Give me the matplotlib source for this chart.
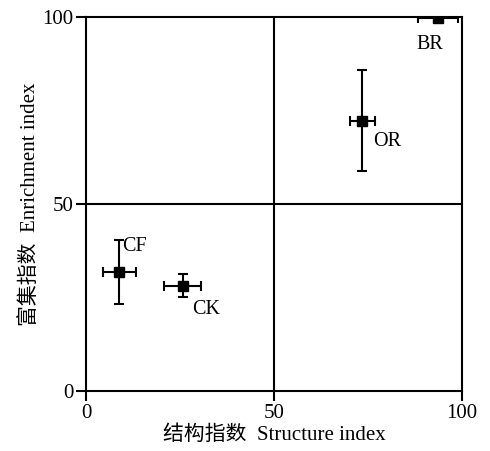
import numpy as np
import matplotlib
matplotlib.use("Agg")
import matplotlib.pyplot as plt

plt.rcParams['font.family'] = ['Liberation Serif', 'Noto Sans CJK SC']

# donnees
names = ["BR", "OR", "CF", "CK"]
si = [93.6, 73.5, 8.8, 25.7]
ei = [99.8, 72.3, 31.9, 28.1]
si_err = [5.3, 3.3, 4.4, 5.0]
ei_err_low = [0.0, 13.4, 8.6, 2.9]
ei_err_high = [0.0, 13.5, 8.5, 3.2]
label_x = [91.5, 76.3, 9.5, 28.1]
label_y = [92.8, 66.8, 38.6, 21.9]
label_ha = ["center", "left", "left", "left"]

fig = plt.figure(figsize=(4.9, 4.51), dpi=100)
ax = fig.add_axes([0.1755, 0.133, 0.7675, 0.829])

ax.errorbar(si, ei, xerr=si_err, yerr=[ei_err_low, ei_err_high], fmt="s",
            color="black", ms=6.5, elinewidth=1.5, capsize=3.5, capthick=1.5,
            zorder=3)

for n, x, y, ha in zip(names, label_x, label_y, label_ha):
    ax.text(x, y, n, fontsize=14.5, ha=ha, va="center")

ax.axvline(50, color="black", lw=1.5)
ax.axhline(50, color="black", lw=1.5)

ax.set_xlim(0, 100)
ax.set_ylim(0, 100)
ax.set_xticks([0, 50, 100])
ax.set_yticks([0, 50, 100])
ax.tick_params(direction="out", length=7, width=1.5, labelsize=15, pad=2)
for s in ax.spines.values():
    s.set_linewidth(1.5)

ax.set_xlabel("结构指数  Structure index", fontsize=15, labelpad=2)
ax.set_ylabel("富集指数  Enrichment index", fontsize=15, labelpad=2)

fig.savefig("out.png", dpi=100, facecolor="white")
